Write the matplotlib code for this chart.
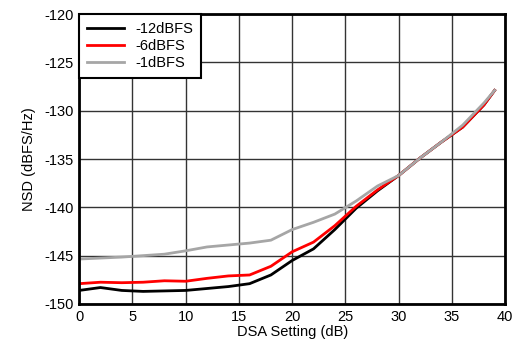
import matplotlib
matplotlib.use("Agg")
import matplotlib.pyplot as plt

plt.rcParams['font.family'] = ['Liberation Sans', 'DejaVu Sans']
plt.rcParams['axes.unicode_minus'] = False

dsa = [0, 2, 4, 6, 8, 10, 12, 14, 16, 18, 20, 22, 24, 26, 28, 30, 32, 34, 36, 38, 39]
nsd_m12 = [-148.6, -148.3, -148.6, -148.7, -148.65, -148.6, -148.4, -148.2, -147.9, -147.0,
           -145.5, -144.3, -142.3, -140.1, -138.3, -136.7, -134.9, -133.25, -131.7, -129.4, -127.9]
nsd_m6 = [-147.9, -147.75, -147.8, -147.75, -147.6, -147.65, -147.35, -147.1, -147.0, -146.1,
          -144.6, -143.6, -141.9, -139.9, -138.2, -136.7, -134.9, -133.25, -131.7, -129.4, -127.9]
nsd_m1 = [-145.35, -145.25, -145.15, -145.0, -144.85, -144.5, -144.1, -143.9, -143.7, -143.4,
          -142.3, -141.55, -140.7, -139.35, -137.8, -136.7, -134.9, -133.25, -131.5, -129.2, -127.9]
labels = ['-12dBFS', '-6dBFS', '-1dBFS']
colors = ['#000000', '#ff0000', '#a6a6a6']

fig = plt.figure(figsize=(5.14, 3.51), dpi=100)
ax = fig.add_axes([0.154, 0.134, 0.829, 0.826])
for y, lab, c in zip([nsd_m12, nsd_m6, nsd_m1], labels, colors):
    ax.plot(dsa, y, color=c, lw=2, label=lab)

ax.set_xlim(0, 40)
ax.set_ylim(-150, -120)
ax.set_xticks(range(0, 41, 5))
ax.set_yticks(range(-150, -119, 5))
ax.grid(True, color='#333333', lw=1)
ax.set_axisbelow(True)
for s in ax.spines.values():
    s.set_linewidth(2)
ax.tick_params(length=0, labelsize=10.5, pad=4)
ax.set_xlabel('DSA Setting (dB)', fontsize=10.5, labelpad=1)
ax.set_ylabel('NSD (dBFS/Hz)', fontsize=10.5, labelpad=6)
leg = ax.legend(loc='upper left', borderaxespad=0, fancybox=False, fontsize=10.5,
                handlelength=2.5, labelspacing=0.2, borderpad=0.55, framealpha=1)
leg.get_frame().set_edgecolor('black')
leg.get_frame().set_linewidth(1.5)
fig.savefig('out.png', dpi=100)
